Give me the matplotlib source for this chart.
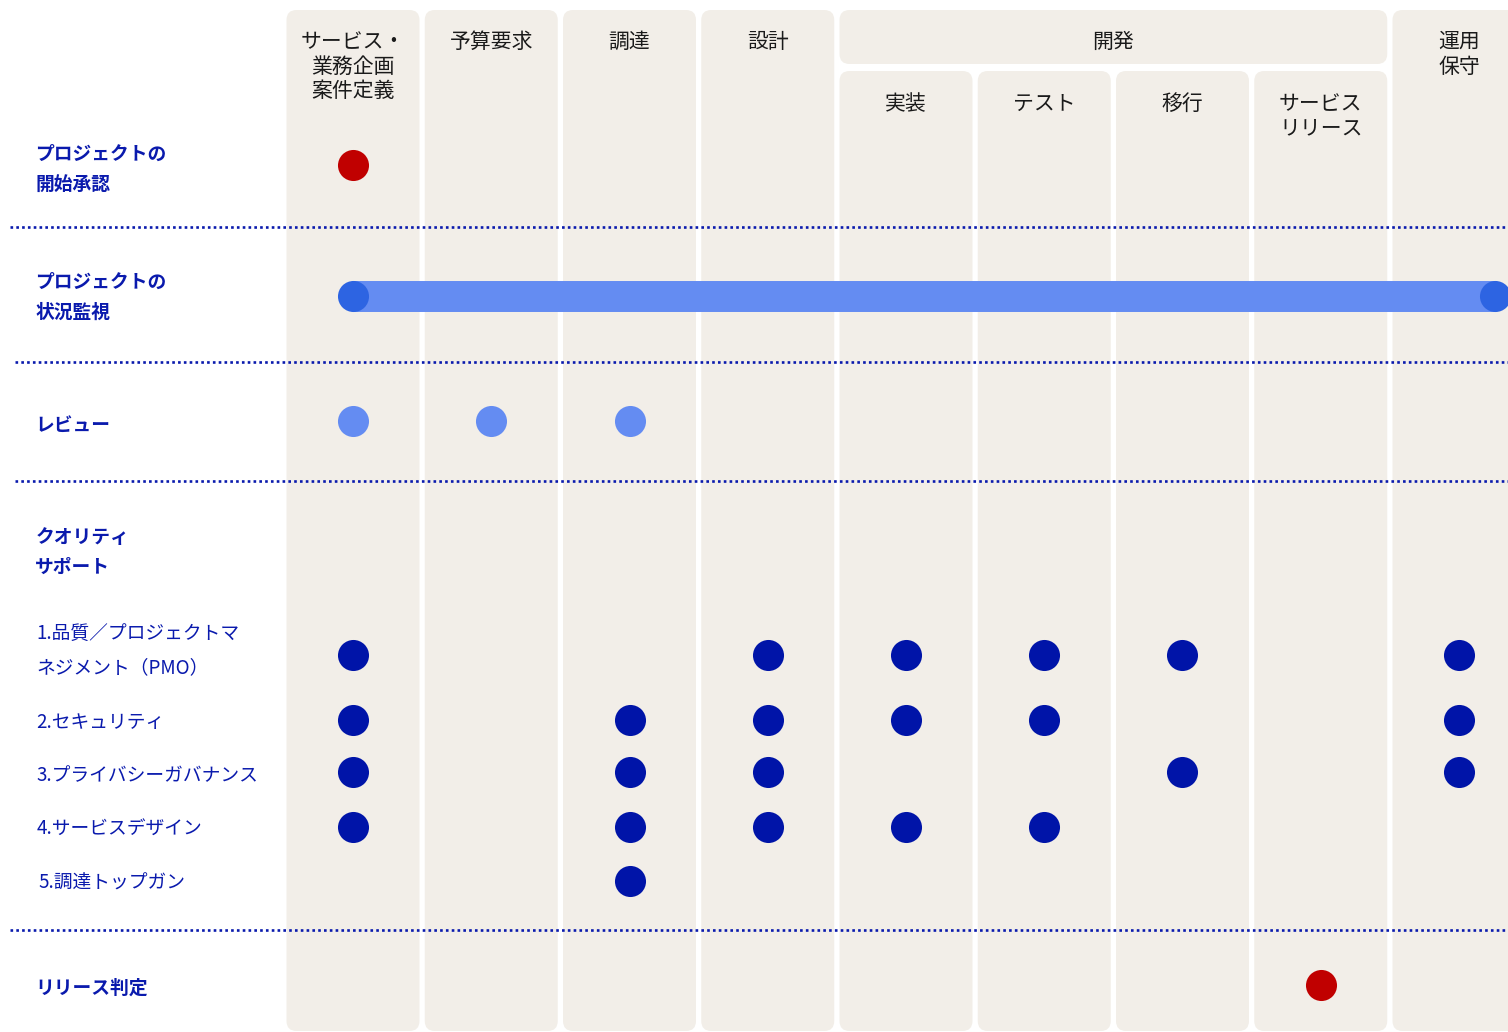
import matplotlib.pyplot as plt
from matplotlib.patches import FancyBboxPatch

plt.rcParams['font.family'] = ['Noto Sans CJK JP', 'DejaVu Sans']

# columns (phases)
phases = ['サービス・\n業務企画\n案件定義', '予算要求', '調達', '設計',
          '実装', 'テスト', '移行', 'サービス\nリリース', '運用\n保守']
dev_group = '開発'
dev_cols = [4, 5, 6, 7]

# rows
row_labels = ['プロジェクトの\n開始承認', 'プロジェクトの\n状況監視', 'レビュー',
              'クオリティ\nサポート', 'リリース判定']
quality_items = ['1.品質／プロジェクトマ\nネジメント（PMO）', '2.セキュリティ',
                 '3.プライバシーガバナンス', '4.サービスデザイン', '5.調達トップガン']

approval_cols = [0]
review_cols = [0, 1, 2]
pmo_cols = [0, 3, 4, 5, 6, 8]
security_cols = [0, 2, 3, 4, 5, 8]
privacy_cols = [0, 2, 3, 6, 8]
design_cols = [0, 2, 3, 4, 5]
topgun_cols = [2]
release_cols = [7]
monitor_span = [0, 8.26]

# layout (px for y, column index for x)
W, H = 1508, 1032
col_px = 138.25
col0_px = 353
col_w = 133 / col_px
rad = 10
bg = '#f2eee8'
navy = '#0a1aad'
dark = '#0014a8'
light = '#648cf2'
cap = '#2d64e2'
red = '#c00000'
ms = 500

fig = plt.figure(figsize=(W / 100, H / 100), dpi=100)
ax = fig.add_axes([0, 0, 1, 1])
ax.set_xlim(-col0_px / col_px, (W - col0_px) / col_px)
ax.set_ylim(H, 0)
ax.axis('off')


def box(x0, x1, y0, y1):
    p = FancyBboxPatch((x0, y0), x1 - x0, y1 - y0,
                       boxstyle='round,pad=0,rounding_size=%f' % (rad / col_px),
                       mutation_aspect=col_px, fc=bg, ec='none', zorder=0)
    ax.add_patch(p)


for i, name in enumerate(phases):
    top = 71 if i in dev_cols else 10
    box(i - col_w / 2, i + col_w / 2, top, 1031)
    ty = 93 if i in dev_cols else 31
    ax.text(i, ty, name, ha='center', va='top', fontsize=15,
            color='#1a1a1a', linespacing=1.15)

box(dev_cols[0] - col_w / 2, dev_cols[-1] + col_w / 2, 10, 64)
ax.text(sum(dev_cols) / len(dev_cols), 42, dev_group, ha='center', va='center',
        fontsize=15, color='#1a1a1a')

# row labels
label_y = [153, 281, 424, 536, 987]
for lab, y in zip(row_labels, label_y):
    ax.text(-2.298, y - 8, lab, ha='left', va='top', fontsize=13.5,
            fontweight='bold', color=navy, linespacing=1.75)

item_y = [631, 720, 773, 827, 881]
item_x = [-2.29, -2.29, -2.29, -2.29, -2.275]
for lab, x, y in zip(quality_items, item_x, item_y):
    ax.text(x, y - 8, lab, ha='left', va='top', fontsize=13.5,
            color=navy, linespacing=1.85)

# separators
for y, x0 in [(227, 10), (362, 15), (481, 15), (930, 10)]:
    ax.plot([(x0 - col0_px) / col_px, (W - col0_px) / col_px], [y, y],
            color=navy, lw=1.9, linestyle=(0, (1, 1.2)), zorder=1)

# monitoring bar
ax.plot(monitor_span, [296, 296], color=light, lw=22.3,
        solid_capstyle='butt', zorder=2)
ax.scatter(monitor_span, [296, 296], s=ms, color=cap, lw=0, zorder=3)

dot_rows = [(approval_cols, 165, red), (review_cols, 421, light),
            (pmo_cols, 655, dark), (security_cols, 720, dark),
            (privacy_cols, 772, dark), (design_cols, 827, dark),
            (topgun_cols, 881, dark), (release_cols, 985, red)]
for cols, y, c in dot_rows:
    ax.scatter(cols, [y] * len(cols), s=ms, color=c, lw=0, zorder=3)

fig.savefig('out.png', dpi=100)
